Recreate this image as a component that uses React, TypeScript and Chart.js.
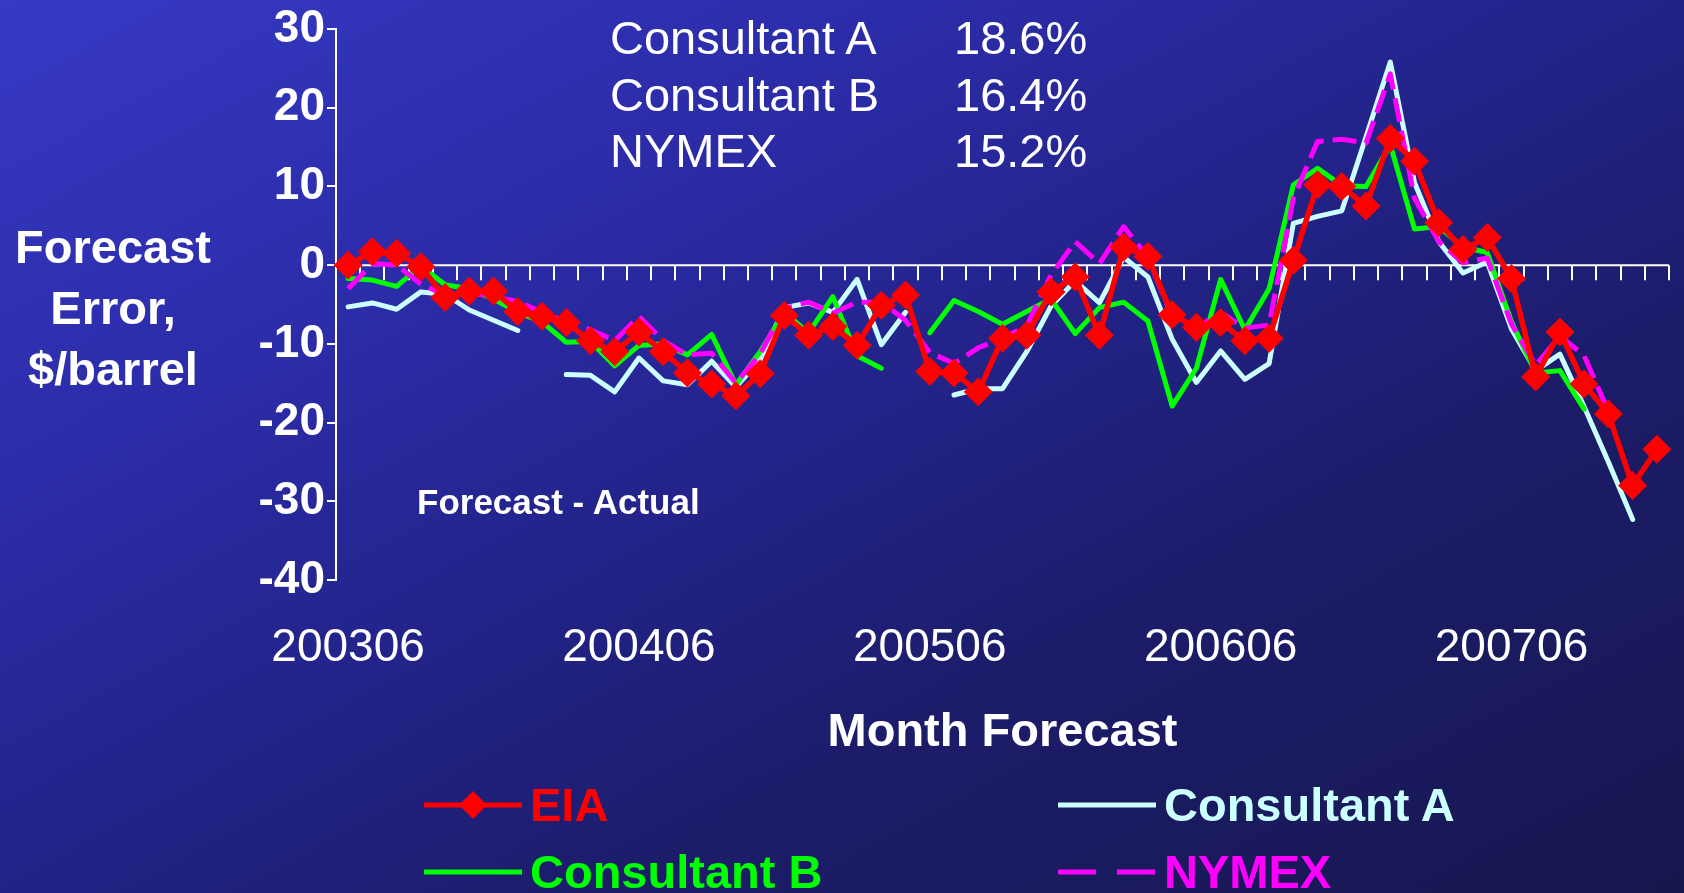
import React, { useEffect, useRef } from "react";
import { Chart, registerables } from "chart.js";

Chart.register(...registerables);

// ---------------- data ----------------
const months = [
  "200306", "200307", "200308", "200309", "200310", "200311", "200312",
  "200401", "200402", "200403", "200404", "200405", "200406", "200407", "200408", "200409", "200410", "200411", "200412",
  "200501", "200502", "200503", "200504", "200505", "200506", "200507", "200508", "200509", "200510", "200511", "200512",
  "200601", "200602", "200603", "200604", "200605", "200606", "200607", "200608", "200609", "200610", "200611", "200612",
  "200701", "200702", "200703", "200704", "200705", "200706", "200707", "200708", "200709", "200710", "200711", "200712",
];

const xTickLabels = ["200306", "200406", "200506", "200606", "200706"];

const eia = [
  0, 1.7, 1.5, -0.2, -4.1, -3.3, -3.3, -5.9, -6.5, -7.3,
  -9.6, -11.0, -8.5, -11.0, -13.7, -15.1, -16.6, -13.8, -6.4, -8.9,
  -7.8, -10.2, -5.1, -3.8, -13.5, -13.7, -16.1, -9.3, -8.9, -3.4,
  -1.5, -8.9, 2.3, 1.1, -6.3, -7.9, -7.3, -9.6, -9.3, 0.6,
  10.2, 10.0, 7.5, 16.1, 13.2, 5.4, 2.0, 3.5, -1.7, -14.2,
  -8.5, -15.1, -18.9, -28.0, -23.4,
];

const consultantA = [
  -5.3, -4.8, -5.6, -3.4, -3.7, -5.7, -7.0, -8.3, null, -13.9,
  -14.0, -16.1, -11.8, -14.7, -15.2, -12.2, -15.5, -12.0, -5.4, -4.8,
  -6.0, -1.8, -10.1, -6.0, null, -16.5, -15.7, -15.7, -11.0, -5.2,
  -2.0, -4.8, 1.0, -1.5, -9.4, -14.9, -10.9, -14.5, -12.5, 5.3,
  6.2, 6.9, 16.3, 25.8, 10.5, 3.0, -1.0, 0.4, -8.1, -13.4,
  -11.3, -18.0, -25.0, -32.3, null,
];

const consultantB = [
  -1.7, -1.9, -2.7, -0.1, -2.5, -3.0, -4.3, -6.0, -7.2, -9.8,
  -9.7, -12.8, -10.2, -10.0, -11.4, -8.8, -15.2, -11.0, -6.0, -8.6,
  -4.0, -11.5, -13.1, null, -8.6, -4.5, -5.9, -7.5, -5.9, -4.3,
  -8.7, -5.4, -4.7, -7.1, -17.9, -13.1, -1.8, -8.2, -3.0, 10.2,
  12.3, 10.1, 10.0, 15.3, 4.6, 4.9, 2.3, 1.6, -7.2, -13.7,
  -13.4, -18.3, null, null, null,
];

const nymex = [
  -3.0, 0.2, 0.0, -2.4, -3.8, -3.5, -4.0, -4.6, -6.0, -7.2,
  -8.2, -9.6, -6.5, -9.6, -11.4, -11.2, -15.0, -11.3, -5.5, -4.7,
  -6.1, -4.7, -4.7, -7.0, -11.1, -12.5, -10.5, -9.3, -7.7, -1.3,
  3.0, 0.2, 4.9, 1.0, -6.6, -8.0, -6.0, -8.0, -7.6, 8.5,
  15.7, 16.0, 15.5, 24.3, 8.5, 3.0, 0.3, 0.9, -7.5, -12.7,
  -9.0, -11.5, -18.6, null, null,
];

const summaryNames = ["Consultant A", "Consultant B", "NYMEX"];
const summaryValues = ["18.6%", "16.4%", "15.2%"];

const seriesNames = ["EIA", "Consultant A", "Consultant B", "NYMEX"];

// ---------------- styles ----------------
const FONT = '"Liberation Sans", Arial, Helvetica, sans-serif';
const COLORS = {
  eia: "#ff0000",
  a: "#ccffff",
  b: "#00ff00",
  nymex: "#ff00ff",
};
const W = 1684;
const H = 893;

const zeroLinePlugin = {
  id: "zeroLine",
  beforeDatasetsDraw(chart: any) {
    const { ctx, chartArea, scales } = chart;
    const xs = scales.x;
    const ys = scales.y;
    const y0 = ys.getPixelForValue(0);
    const step = xs.getPixelForValue(1) - xs.getPixelForValue(0);
    ctx.save();
    ctx.strokeStyle = "#ffffff";
    ctx.lineWidth = 2;
    ctx.beginPath();
    ctx.moveTo(chartArea.left, y0);
    ctx.lineTo(chartArea.right, y0);
    for (let i = 0; i < months.length; i++) {
      const bx = Math.round(xs.getPixelForValue(i) + step / 2);
      ctx.moveTo(bx, y0);
      ctx.lineTo(bx, y0 + 15);
    }
    ctx.stroke();
    ctx.restore();
  },
};

function LegendSample({ kind }: { kind: string }) {
  const color =
    kind === "EIA" ? COLORS.eia : kind === "Consultant A" ? COLORS.a : kind === "Consultant B" ? COLORS.b : COLORS.nymex;
  return (
    <svg width={100} height={30} style={{ display: "block" }}>
      <line
        x1={0}
        y1={15}
        x2={98}
        y2={15}
        stroke={color}
        strokeWidth={5}
        strokeDasharray={kind === "NYMEX" ? "38 21" : undefined}
      />
      {kind === "EIA" ? <polygon points="49,1 63,15 49,29 35,15" fill={COLORS.eia} /> : null}
    </svg>
  );
}

export default function App() {
  const canvasRef = useRef<HTMLCanvasElement | null>(null);

  useEffect(() => {
    document.body.style.margin = "0";
    const canvas = canvasRef.current;
    if (!canvas) return;
    const chart = new Chart(canvas, {
      type: "line",
      data: {
        labels: months,
        datasets: [
          {
            label: seriesNames[0],
            data: eia,
            borderColor: COLORS.eia,
            backgroundColor: COLORS.eia,
            borderWidth: 5.5,
            pointStyle: "rectRot",
            pointRadius: 14,
            pointBorderWidth: 1,
            pointBackgroundColor: COLORS.eia,
            pointBorderColor: COLORS.eia,
            borderJoinStyle: "round",
            tension: 0,
            order: 0,
          },
          {
            label: seriesNames[1],
            data: consultantA,
            borderColor: COLORS.a,
            backgroundColor: COLORS.a,
            borderWidth: 5,
            pointRadius: 0,
            borderJoinStyle: "round",
            borderCapStyle: "round",
            tension: 0,
            spanGaps: false,
            order: 3,
          },
          {
            label: seriesNames[2],
            data: consultantB,
            borderColor: COLORS.b,
            backgroundColor: COLORS.b,
            borderWidth: 5,
            pointRadius: 0,
            borderJoinStyle: "round",
            borderCapStyle: "round",
            tension: 0,
            spanGaps: false,
            order: 2,
          },
          {
            label: seriesNames[3],
            data: nymex,
            borderColor: COLORS.nymex,
            backgroundColor: COLORS.nymex,
            borderWidth: 5,
            borderDash: [24, 9],
            pointRadius: 0,
            borderJoinStyle: "round",
            tension: 0,
            spanGaps: false,
            order: 1,
          },
        ],
      },
      options: {
        responsive: false,
        animation: false,
        events: [],
        layout: { padding: { top: 29, right: 7, left: 0, bottom: 0 } },
        plugins: {
          legend: { display: false },
          tooltip: { enabled: false },
        },
        scales: {
          x: {
            type: "category",
            offset: true,
            grid: { display: false, drawTicks: false, tickLength: 0 },
            border: { display: false },
            ticks: {
              autoSkip: false,
              maxRotation: 0,
              minRotation: 0,
              color: "#ffffff",
              padding: 41,
              font: { family: FONT, size: 46 },
              callback: (_v: any, i: number) => (xTickLabels.includes(months[i]) ? months[i] : ""),
            },
            title: {
              display: true,
              text: "Month Forecast",
              color: "#ffffff",
              font: { family: FONT, size: 47, weight: "bold" },
              padding: { top: 0, bottom: 132 },
            },
            afterFit: (scale: any) => {
              scale.height = 313;
              scale.paddingLeft = 0;
              scale.paddingRight = 0;
            },
          },
          y: {
            min: -40,
            max: 30,
            ticks: {
              stepSize: 10,
              color: "#ffffff",
              padding: 2,
              font: { family: FONT, size: 46, weight: "bold" },
            },
            grid: {
              drawOnChartArea: false,
              drawTicks: true,
              tickLength: 9,
              color: "#ffffff",
              lineWidth: 2,
            },
            border: { display: true, color: "#ffffff", width: 2 },
            afterFit: (scale: any) => {
              scale.width = 336;
              scale.paddingTop = 0;
              scale.paddingBottom = 0;
            },
          },
        },
      } as any,
      plugins: [zeroLinePlugin],
    });
    return () => chart.destroy();
  }, []);

  const textBase: React.CSSProperties = {
    position: "absolute",
    fontFamily: FONT,
    color: "#ffffff",
    whiteSpace: "nowrap",
    pointerEvents: "none",
  };

  const legendItems = [
    { name: seriesNames[0], color: COLORS.eia, left: 424, top: 805 },
    { name: seriesNames[1], color: COLORS.a, left: 1058, top: 805 },
    { name: seriesNames[2], color: COLORS.b, left: 424, top: 872 },
    { name: seriesNames[3], color: COLORS.nymex, left: 1058, top: 872 },
  ];

  return (
    <div
      style={{
        position: "relative",
        width: W,
        height: H,
        overflow: "hidden",
        background:
          "linear-gradient(to bottom right, #3639c4 0%, #2b2ba6 30%, #23238a 48%, #1c1c6a 68%, #17174f 100%)",
      }}
    >
      <canvas ref={canvasRef} width={W} height={H} style={{ display: "block", position: "absolute", left: 0, top: 0 }} />

      {/* y-axis title */}
      <div
        style={{
          ...textBase,
          left: 0,
          top: 216,
          width: 226,
          textAlign: "center",
          fontSize: 47,
          fontWeight: "bold",
          lineHeight: "61px",
        }}
      >
        <div>Forecast</div>
        <div>Error,</div>
        <div>$/barrel</div>
      </div>

      {/* summary block */}
      <div style={{ ...textBase, left: 610, top: 10, fontSize: 47, lineHeight: "56.5px" }}>
        {summaryNames.map((n) => (
          <div key={n}>{n}</div>
        ))}
      </div>
      <div style={{ ...textBase, left: 954, top: 10, fontSize: 47, lineHeight: "56.5px" }}>
        {summaryValues.map((v) => (
          <div key={v}>{v}</div>
        ))}
      </div>

      {/* note */}
      <div style={{ ...textBase, left: 417, top: 481, fontSize: 35, fontWeight: "bold", lineHeight: "42px" }}>
        Forecast - Actual
      </div>

      {/* legend */}
      {legendItems.map((it) => (
        <div
          key={it.name}
          style={{
            position: "absolute",
            left: it.left,
            top: it.top - 28,
            height: 56,
            display: "flex",
            alignItems: "center",
            pointerEvents: "none",
          }}
        >
          <LegendSample kind={it.name} />
          <span
            style={{
              fontFamily: FONT,
              fontWeight: "bold",
              fontSize: 47,
              lineHeight: "56px",
              color: it.color,
              marginLeft: 6,
              whiteSpace: "nowrap",
            }}
          >
            {it.name}
          </span>
        </div>
      ))}
    </div>
  );
}
